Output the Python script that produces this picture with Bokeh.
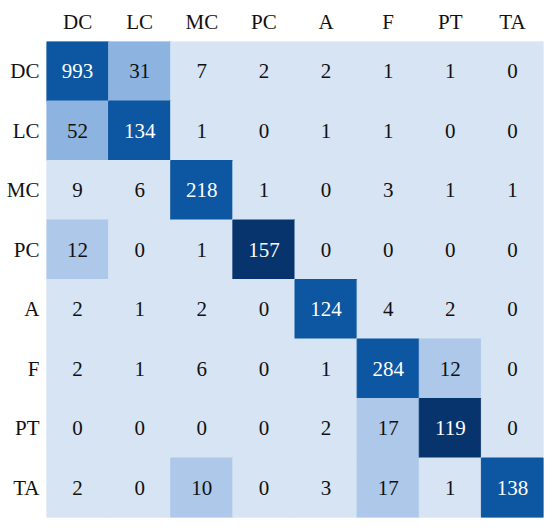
from bokeh.plotting import figure
from bokeh.models import ColumnDataSource, FactorRange
from bokeh.embed import file_html
from bokeh.resources import INLINE
from bokeh.core.properties import value

classes = ["DC", "LC", "MC", "PC", "A", "F", "PT", "TA"]

# confusion matrix rows (true class) x columns (predicted)
row_DC = [993, 31, 7, 2, 2, 1, 1, 0]
row_LC = [52, 134, 1, 0, 1, 1, 0, 0]
row_MC = [9, 6, 218, 1, 0, 3, 1, 1]
row_PC = [12, 0, 1, 157, 0, 0, 0, 0]
row_A = [2, 1, 2, 0, 124, 4, 2, 0]
row_F = [2, 1, 6, 0, 1, 284, 12, 0]
row_PT = [0, 0, 0, 0, 2, 17, 119, 0]
row_TA = [2, 0, 10, 0, 3, 17, 1, 138]
matrix = [row_DC, row_LC, row_MC, row_PC, row_A, row_F, row_PT, row_TA]

# shade level of each cell (0 lightest .. 4 darkest)
shade_DC = [3, 2, 0, 0, 0, 0, 0, 0]
shade_LC = [2, 3, 0, 0, 0, 0, 0, 0]
shade_MC = [0, 0, 3, 0, 0, 0, 0, 0]
shade_PC = [1, 0, 0, 4, 0, 0, 0, 0]
shade_A = [0, 0, 0, 0, 3, 0, 0, 0]
shade_F = [0, 0, 0, 0, 0, 3, 1, 0]
shade_PT = [0, 0, 0, 0, 0, 1, 4, 0]
shade_TA = [0, 0, 1, 0, 0, 1, 0, 3]
shades = [shade_DC, shade_LC, shade_MC, shade_PC, shade_A, shade_F, shade_PT, shade_TA]

palette = ["#d6e4f3", "#adc8e9", "#8db3e1", "#0d56a1", "#08346e"]
text_cols = ["#111111", "#111111", "#111111", "#ffffff", "#ffffff"]

xs, ys, fills, labels, tcols = [], [], [], [], []
for i, r in enumerate(classes):
    for j, c in enumerate(classes):
        xs.append(c)
        ys.append(r)
        s = shades[i][j]
        fills.append(palette[s])
        tcols.append(text_cols[s])
        labels.append(str(matrix[i][j]))

src = ColumnDataSource(dict(x=xs, y=ys, fill=fills, label=labels, tcol=tcols))

p = figure(
    frame_width=497, frame_height=476,
    x_range=FactorRange(*classes),
    y_range=FactorRange(*classes[::-1]),
    x_axis_location="above",
    output_backend="svg", toolbar_location=None,
    min_border_left=46, min_border_top=41, min_border_right=3, min_border_bottom=6,
)
p.rect(x="x", y="y", width=1, height=1, source=src,
       fill_color="fill", line_color="fill", line_width=1)
p.text(x="x", y="y", text="label", source=src, text_color="tcol",
       text_align="center", text_baseline="middle",
       text_font=value("Liberation Serif"), text_font_size="21px")

p.grid.visible = False
p.outline_line_color = None
p.background_fill_color = "white"
p.border_fill_color = "white"
for ax in (p.xaxis, p.yaxis):
    ax.axis_line_color = None
    ax.major_tick_line_color = None
    ax.minor_tick_line_color = None
    ax.major_tick_out = 0
    ax.major_tick_in = 0
    ax.major_label_text_font = "Liberation Serif"
    ax.major_label_text_font_size = "21px"
    ax.major_label_text_color = "#111111"
p.xaxis.major_label_standoff = 8
p.yaxis.major_label_standoff = 7

open("out.html", "w").write(file_html(p, INLINE))
